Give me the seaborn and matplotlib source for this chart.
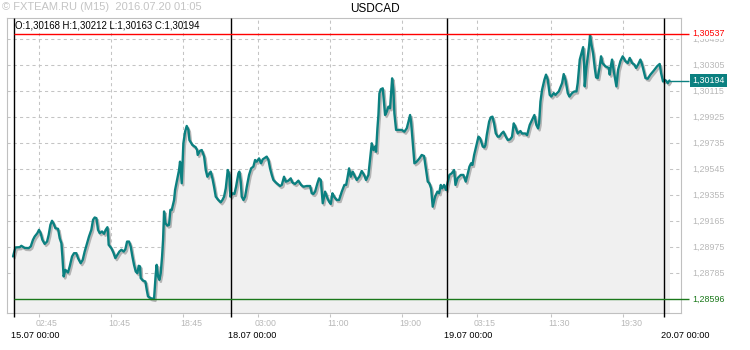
import matplotlib
matplotlib.use("Agg")
import matplotlib.pyplot as plt
import matplotlib.transforms as mtrans
import numpy as np
import pandas as pd
import seaborn as sns

# ---------------- data (M15 closes, hours from 15.07 00:00 in trading time) -------------
fri_hours = [-0.14, 0.12, 0.60, 0.78, 1.15, 1.59, 1.82, 2.07, 2.26, 2.55, 2.74, 2.92, 3.11, 3.37, 3.63,
             3.81, 4.00, 4.18, 4.37, 4.55, 4.85, 5.03, 5.22, 5.33, 5.47, 5.66, 5.95, 6.14, 6.40, 6.62,
             6.88, 7.06, 7.36, 7.58, 7.80, 8.06, 8.28, 8.54, 8.73, 8.91, 9.10, 9.28, 9.47, 9.72, 9.95,
             10.13, 10.32, 10.39, 10.46, 10.76, 10.98, 11.20, 11.42, 11.65, 11.87, 12.13, 12.31, 12.50,
             12.72, 12.90, 13.09, 13.27, 13.46, 13.64, 13.79, 13.94, 14.01, 14.27, 14.53, 14.68, 14.82,
             15.12, 15.49, 15.67, 15.78, 15.93, 16.08, 16.23, 16.38, 16.49, 16.60, 16.75, 16.97, 17.15,
             17.30, 17.45, 17.71, 17.82, 18.00, 18.26, 18.37, 18.56, 18.74, 18.93, 19.11, 19.30, 19.41,
             19.74, 20.11, 20.26, 20.33, 20.59, 20.78, 21.04, 21.22, 21.40, 21.63, 21.77, 21.96, 22.14,
             22.33, 22.62, 22.88, 23.07, 23.25, 23.44, 23.66, 23.84, 23.95]
fri_close = [1.28908, 1.28974, 1.28976, 1.28986, 1.28971, 1.28969, 1.28981, 1.29030, 1.29054, 1.29078,
             1.29103, 1.29078, 1.29030, 1.29000, 1.29017, 1.29066, 1.29139, 1.29169, 1.29147, 1.29115,
             1.29110, 1.29042, 1.29005, 1.28908, 1.28762, 1.28810, 1.28791, 1.28835, 1.28908, 1.28932,
             1.28932, 1.28896, 1.28859, 1.28883, 1.28944, 1.29005, 1.29054, 1.29103, 1.29176, 1.29193,
             1.29188, 1.29103, 1.29078, 1.29091, 1.29074, 1.29103, 1.29122, 1.29078, 1.28993, 1.28969,
             1.28937, 1.28896, 1.28920, 1.28944, 1.28957, 1.28944, 1.28961, 1.29017, 1.29017, 1.28981,
             1.28908, 1.28847, 1.28798, 1.28786, 1.28840, 1.28835, 1.28750, 1.28732, 1.28725, 1.28664,
             1.28616, 1.28603, 1.28598, 1.28774, 1.28847, 1.28762, 1.28737, 1.28786, 1.28908, 1.29030,
             1.29237, 1.29151, 1.29134, 1.29139, 1.29249, 1.29248, 1.29320, 1.29394, 1.29455, 1.29540,
             1.29601, 1.29443, 1.29735, 1.29820, 1.29862, 1.29833, 1.29759, 1.29723, 1.29706, 1.29686,
             1.29650, 1.29681, 1.29686, 1.29638, 1.29540, 1.29491, 1.29516, 1.29528, 1.29479, 1.29418,
             1.29345, 1.29321, 1.29304, 1.29321, 1.29345, 1.29406, 1.29540, 1.29504, 1.29345]

mon_hours = [24.18, 24.40, 24.58, 24.84, 24.95, 25.10, 25.21, 25.40, 25.58, 25.77, 26.02, 26.25, 26.50,
             26.69, 26.87, 27.13, 27.35, 27.54, 27.98, 28.17, 28.35, 28.54, 28.72, 29.09, 29.46, 29.65,
             29.90, 30.09, 30.38, 30.64, 30.83, 31.12, 31.49, 31.79, 32.05, 32.42, 32.79, 32.97, 33.16,
             33.34, 33.60, 33.78, 33.97, 34.08, 34.19, 34.45, 34.71, 34.89, 35.08, 35.26, 35.45, 35.74,
             36.00, 36.30, 36.59, 36.78, 36.92, 37.11, 37.29, 37.51, 37.77, 37.96, 38.25, 38.51, 38.77,
             38.99, 39.25, 39.44, 39.62, 39.81, 39.99, 40.10, 40.25, 40.36, 40.47, 40.62, 40.84, 40.99,
             41.10, 41.28, 41.47, 41.65, 41.76, 41.88, 42.02, 42.13, 42.32, 42.58, 42.95, 43.24, 43.50,
             43.69, 43.87, 43.98, 44.17, 44.35, 44.61, 44.91, 45.16, 45.42, 45.65, 45.83, 46.01, 46.20,
             46.38, 46.64, 46.90, 47.09, 47.27, 47.42, 47.64, 47.86]
mon_close = [1.29370, 1.29365, 1.29418, 1.29516, 1.29528, 1.29455, 1.29345, 1.29321, 1.29345, 1.29418,
             1.29504, 1.29552, 1.29565, 1.29613, 1.29601, 1.29625, 1.29589, 1.29618, 1.29638, 1.29613,
             1.29552, 1.29504, 1.29467, 1.29443, 1.29423, 1.29431, 1.29491, 1.29455, 1.29462, 1.29479,
             1.29448, 1.29438, 1.29462, 1.29431, 1.29418, 1.29423, 1.29423, 1.29370, 1.29365, 1.29382,
             1.29443, 1.29479, 1.29467, 1.29382, 1.29297, 1.29382, 1.29333, 1.29309, 1.29292, 1.29370,
             1.29345, 1.29321, 1.29321, 1.29382, 1.29431, 1.29431, 1.29479, 1.29552, 1.29491, 1.29528,
             1.29491, 1.29467, 1.29491, 1.29533, 1.29504, 1.29467, 1.29504, 1.29625, 1.29735, 1.29686,
             1.29711, 1.29674, 1.29845, 1.29942, 1.30100, 1.30130, 1.30137, 1.30027, 1.29942, 1.29966,
             1.30003, 1.29991, 1.30100, 1.30210, 1.30125, 1.29954, 1.29833, 1.29833, 1.29833, 1.29820,
             1.29845, 1.29893, 1.29942, 1.29893, 1.29735, 1.29589, 1.29601, 1.29625, 1.29650, 1.29642,
             1.29540, 1.29455, 1.29443, 1.29406, 1.29272, 1.29345, 1.29382, 1.29370, 1.29431, 1.29406,
             1.29431, 1.29394]

tue_hours = [48.01, 48.23, 48.49, 48.75, 48.90, 49.12, 49.49, 49.78, 50.04, 50.23, 50.45, 50.63, 50.78,
             50.97, 51.15, 51.45, 51.63, 51.93, 52.11, 52.22, 52.37, 52.63, 52.81, 53.00, 53.18, 53.37,
             53.59, 53.77, 54.03, 54.22, 54.48, 54.70, 54.96, 55.17, 55.36, 55.54, 55.80, 56.10, 56.28,
             56.65, 56.84, 57.13, 57.39, 57.65, 57.87, 58.06, 58.17, 58.32, 58.50, 58.76, 58.94, 59.13,
             59.35, 59.53, 59.79, 59.98, 60.35, 60.72, 60.90, 61.09, 61.35, 61.53, 61.83, 62.08, 62.31,
             62.45, 62.68, 62.93, 63.05, 63.16, 63.23, 63.41, 63.60, 63.71, 63.82, 63.97, 64.15, 64.34,
             64.49, 64.67, 64.86, 65.04, 65.19, 65.52, 65.89, 66.00, 66.15, 66.26, 66.45, 66.74, 66.93,
             67.18, 67.44, 67.74, 68.00, 68.22, 68.48, 68.74, 68.92, 69.14, 69.40, 69.59, 69.96, 70.21,
             70.51, 70.88, 71.25, 71.54, 71.69, 71.91]
tue_close = [1.29443, 1.29504, 1.29516, 1.29540, 1.29431, 1.29479, 1.29504, 1.29504, 1.29455, 1.29504,
             1.29565, 1.29589, 1.29577, 1.29650, 1.29699, 1.29784, 1.29772, 1.29711, 1.29706, 1.29723,
             1.29796, 1.29893, 1.29925, 1.29930, 1.29881, 1.29808, 1.29784, 1.29784, 1.29808, 1.29820,
             1.29784, 1.29759, 1.29764, 1.29783, 1.29881, 1.29856, 1.29807, 1.29825, 1.29807, 1.29807,
             1.29795, 1.29869, 1.29905, 1.29942, 1.29869, 1.29844, 1.29881, 1.30040, 1.30126, 1.30200,
             1.30237, 1.30200, 1.30089, 1.30077, 1.30102, 1.30089, 1.30114, 1.30175, 1.30241, 1.30200,
             1.30102, 1.30077, 1.30102, 1.30114, 1.30114, 1.30175, 1.30347, 1.30408, 1.30438, 1.30310,
             1.30151, 1.30286, 1.30384, 1.30445, 1.30526, 1.30457, 1.30396, 1.30286, 1.30217, 1.30212,
             1.30286, 1.30371, 1.30322, 1.30298, 1.30286, 1.30237, 1.30310, 1.30347, 1.30261, 1.30151,
             1.30273, 1.30335, 1.30371, 1.30335, 1.30322, 1.30359, 1.30322, 1.30310, 1.30286, 1.30310,
             1.30347, 1.30310, 1.30212, 1.30207, 1.30237, 1.30266, 1.30298, 1.30315, 1.30249, 1.30187]

wed_hours = [72.06, 72.25, 72.43, 72.62]
wed_close = [1.30200, 1.30192, 1.30175, 1.30194]

y_ticks = [1.30495, 1.30305, 1.30115, 1.29925, 1.29735, 1.29545, 1.29355, 1.29165, 1.28975, 1.28785]
time_ticks = [2.75, 10.75, 18.75, 27.0, 35.0, 43.0, 51.25, 59.5, 67.5]
time_labels = ["02:45", "10:45", "18:45", "03:00", "11:00", "19:00", "03:15", "11:30", "19:30"]
day_ticks = [0, 24, 48, 72]
day_labels = ["15.07 00:00", "18.07 00:00", "19.07 00:00", "20.07 00:00"]
high_level = 1.30537
low_level = 1.28596
last_price = 1.30194
ohlc_text = "O:1,30168 H:1,30212 L:1,30163 C:1,30194"
symbol = "USDCAD"
watermark = "\u00a9 FXTEAM.RU (M15)  2016.07.20 01:05"

# ---------------- style -------------
sns.set_style("white")
plt.rcParams["font.family"] = ["Liberation Sans", "DejaVu Sans"]

TEAL = "#0b8080"
SHADOW = "#b4b4b4"
FILL = "#f0f0f0"
GRID = "#c4c4c4"
LBL = "#b8b8b8"
RED = "#ff0000"
GREEN = "#1a781a"

df = pd.DataFrame({
    "hour": fri_hours + mon_hours + tue_hours + wed_hours,
    "close": fri_close + mon_close + tue_close + wed_close,
})

fig = plt.figure(figsize=(7.5, 3.5), dpi=100)
ax = fig.add_axes([7 / 750, 1 - 313 / 350, (681 - 7) / 750, (313 - 18) / 350])

x_lo, x_hi = -0.81, 73.9
y_lo, y_hi = 1.28495, 1.30651
ax.set_xlim(x_lo, x_hi)
ax.set_ylim(y_lo, y_hi)

# grid
for yv in y_ticks:
    ax.axhline(yv, color=GRID, lw=0.75, ls=(0, (3, 3)), zorder=1)
for xv in time_ticks:
    ax.vlines(xv, y_lo - 0.00029, y_hi, color=GRID, lw=0.75, ls=(0, (3, 3)), zorder=1, clip_on=False)

# area fill + shadow + line
ax.fill_between(df["hour"], df["close"], y_lo, color=FILL, lw=0, zorder=2)
shadow_tr = mtrans.offset_copy(ax.transData, fig=fig, x=1.5, y=-2.0, units="dots")
sns.lineplot(data=df, x="hour", y="close", ax=ax, color=SHADOW, lw=1.7, sort=False,
             estimator=None, transform=shadow_tr, zorder=3)
sns.lineplot(data=df, x="hour", y="close", ax=ax, color=TEAL, lw=1.7, sort=False,
             estimator=None, zorder=4)

# day separators
ax.vlines(day_ticks, y_lo - 0.00029, y_hi, color="black", lw=1.0, zorder=5, clip_on=False)

# high / low / last price lines
x_ext = 74.75
ax.hlines(high_level, 0, x_ext, color=RED, lw=1.0, zorder=6, clip_on=False)
ax.hlines(low_level, 0, x_ext, color=GREEN, lw=1.0, zorder=6, clip_on=False)
ax.hlines(last_price, df["hour"].iloc[-1], x_ext, color=TEAL, lw=1.0, zorder=6, clip_on=False)

for s in ax.spines.values():
    s.set_color("#c0c0c0")
    s.set_linewidth(0.8)
ax.set_xticks([])
ax.set_yticks([])
ax.set_xlabel("")
ax.set_ylabel("")

# right labels
fmt = lambda v: f"{v:.5f}".replace(".", ",")
ytr = mtrans.blended_transform_factory(fig.transFigure, ax.transData)
lx = 692 / 750
for yv in y_ticks:
    ax.text(lx, yv, fmt(yv), transform=ytr, color=LBL, fontsize=6.4, va="center", ha="left",
            clip_on=False)
ax.text(lx, high_level, fmt(high_level), transform=ytr, color=RED, fontsize=6.4, va="center",
        ha="left", clip_on=False, zorder=10,
        bbox=dict(boxstyle="square,pad=0.08", fc="white", ec="none"))
ax.text(lx, low_level, fmt(low_level), transform=ytr, color=GREEN, fontsize=6.4, va="center",
        ha="left", clip_on=False, zorder=10)
ax.text(lx, last_price, fmt(last_price), transform=ytr, color="white", fontsize=6.4, va="center",
        ha="left", clip_on=False, zorder=10,
        bbox=dict(boxstyle="square,pad=0.25", fc=TEAL, ec="none"))

# bottom labels
xtr = mtrans.offset_copy(mtrans.blended_transform_factory(ax.transData, fig.transFigure),
                         fig=fig, x=-3, y=0, units="dots")
for xv, lab in zip(time_ticks, time_labels):
    ax.text(xv, 1 - 324 / 350, lab, transform=xtr, color=LBL, fontsize=6.3, va="center", ha="left")
for xv, lab in zip(day_ticks, day_labels):
    ax.text(xv, 1 - 335 / 350, lab, transform=xtr, color="black", fontsize=6.6, va="center",
            ha="left")

# top texts
fig.text(2 / 750, 1 - 7 / 350, watermark, color="#c4c4c4", fontsize=8, va="center", ha="left")
fig.text(375 / 750, 1 - 8.5 / 350, symbol, color="black", fontsize=8.5, va="center", ha="center")
ax.text(15 / 750, 1 - 25 / 350, ohlc_text, transform=fig.transFigure, color="black", fontsize=6.9,
        va="center", ha="left", zorder=10)

fig.savefig("out.png", dpi=100)
